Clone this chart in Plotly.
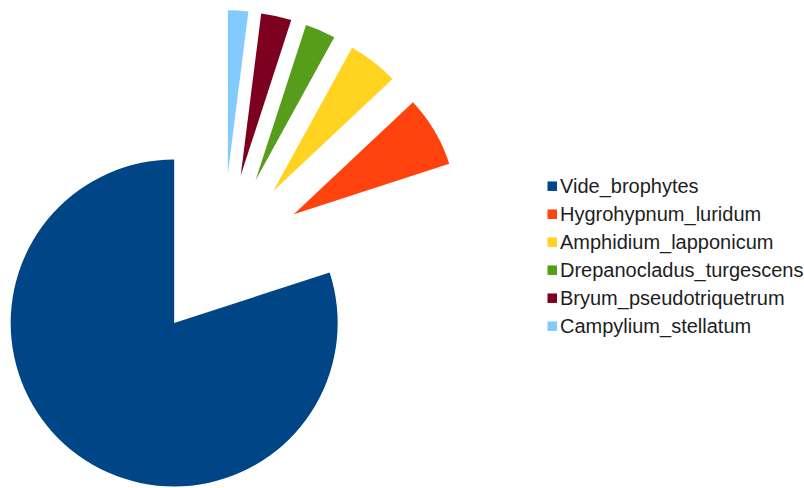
import math
import plotly.graph_objects as go

# Species shares (percent) and LibreOffice-style palette
labels = [
    "Vide_brophytes",
    "Hygrohypnum_luridum",
    "Amphidium_lapponicum",
    "Drepanocladus_turgescens",
    "Bryum_pseudotriquetrum",
    "Campylium_stellatum",
]
values = [80, 7, 5, 3, 3, 2]
colors = ["#004586", "#ff420e", "#ffd320", "#579d1c", "#7e0021", "#83caff"]

# Figure geometry (pixels)
W, H = 804, 488
CX, CY = 222.7, 256.2      # centre of the unexploded pie
R = 163.5                  # pie radius
EXPLODE = 0.505            # every slice is pushed out by this fraction of R

total = sum(values)
fig = go.Figure()

# Each slice is its own pie trace (slice + transparent remainder), centred at
# its exploded position, so the offset can be as large as needed.
cum = 0.0
for lab, val, col in zip(labels, values, colors):
    span = 360.0 * val / total
    start = (-(cum + span)) % 360.0          # clockwise from 12 o'clock
    mid = math.radians(start + span / 2.0)
    cx = CX + EXPLODE * R * math.sin(mid)
    cy = CY - EXPLODE * R * math.cos(mid)
    cum += span
    fig.add_trace(go.Pie(
        labels=[lab, lab + " "],
        values=[val, total - val],
        marker=dict(colors=[col, "rgba(0,0,0,0)"], line=dict(width=0)),
        sort=False,
        direction="clockwise",
        rotation=start,
        textinfo="none",
        hoverinfo="label+value",
        showlegend=False,
        domain=dict(
            x=[(cx - R) / W, (cx + R) / W],
            y=[1 - (cy + R) / H, 1 - (cy - R) / H],
        ),
    ))

# Legend: coloured squares with species names
LEG_SQ_X = 547.5
LEG_SQ = 9.5
LEG_TXT_X = 558.5
LEG_Y0 = 186.2
LEG_DY = 28.0
shapes, annotations = [], []
for k, (lab, col) in enumerate(zip(labels, colors)):
    yc = LEG_Y0 + k * LEG_DY
    shapes.append(dict(
        type="rect", xref="paper", yref="paper",
        x0=LEG_SQ_X / W, x1=(LEG_SQ_X + LEG_SQ) / W,
        y0=1 - (yc + LEG_SQ / 2) / H, y1=1 - (yc - LEG_SQ / 2) / H,
        fillcolor=col, line=dict(width=0),
    ))
    annotations.append(dict(
        text=lab, xref="paper", yref="paper",
        x=LEG_TXT_X / W, y=1 - yc / H,
        xanchor="left", yanchor="middle",
        showarrow=False, borderpad=0,
        font=dict(family="Liberation Sans, Arial, sans-serif", size=20, color="#1e1e1e"),
    ))

fig.update_layout(
    width=W, height=H, autosize=False,
    margin=dict(l=0, r=0, t=0, b=0),
    paper_bgcolor="white", plot_bgcolor="white",
    shapes=shapes, annotations=annotations,
    showlegend=False,
)

fig.write_html("out.html")
